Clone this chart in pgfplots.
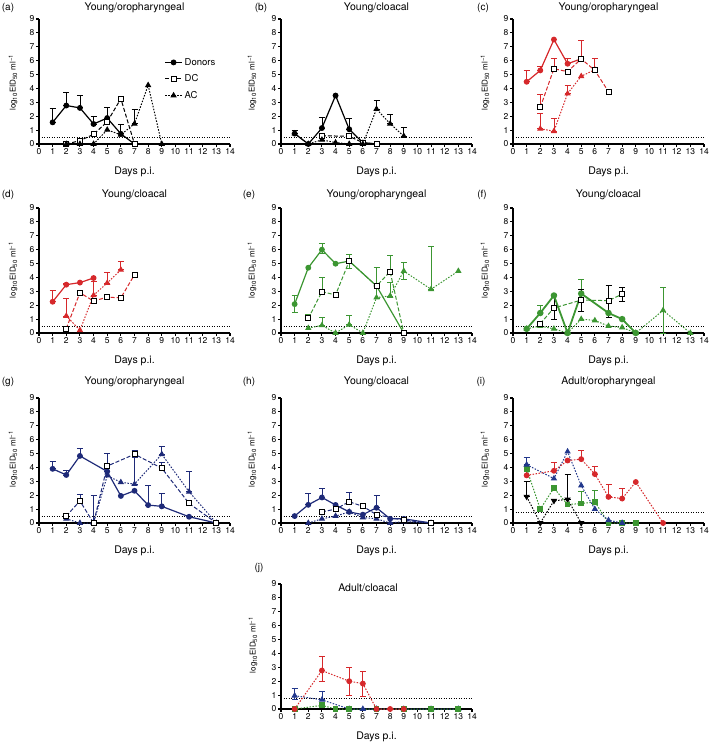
\documentclass[border=0pt]{standalone}
\usepackage{fontspec}
\setmainfont{TeX Gyre Heros}
\usepackage{pgfplots}
\pgfplotsset{compat=1.18}
\definecolor{cred}{HTML}{D6282B}
\definecolor{cgreen}{HTML}{3C9632}
\definecolor{cnavy}{HTML}{1E2A78}
\definecolor{cblue}{HTML}{22388C}
\newcommand{\tf}{\fontsize{10.5}{12}\selectfont}
\newcommand{\lf}{\fontsize{10}{12}\selectfont}
\newcommand{\yf}{\fontsize{8}{9}\selectfont}
\newcommand{\ylab}{log\textsubscript{10}EID\textsubscript{50} ml\textsuperscript{−1}}
\pgfplotsset{
 panel/.style={scale only axis, width=191pt, height=125pt,
   xmin=0,xmax=14,ymin=0,ymax=9, xtick={0,...,14}, ytick={0,...,9},
   axis lines=left, axis line style={-, line width=1.7pt},
   tick align=outside, major tick length=3pt, tick style={line width=1.1pt, black},
   tick label style={font=\fontsize{8.5}{9}\selectfont},
   /pgf/number format/assume math mode=true,
   xticklabel style={inner sep=1.5pt}, yticklabel style={inner sep=1.5pt},
   clip=false, anchor=south west},
 lod/.style={forget plot, black, line width=1pt, dash pattern=on 1.3pt off 1.2pt},
 don/.style={solid, line width=1.2pt, mark=*, mark size=2.3pt, mark options={solid}},
 dc/.style={dash pattern=on 4pt off 2pt, line width=1pt, mark=square*, mark size=2.5pt, mark options={solid, draw=black, fill=white, line width=0.9pt}},
 ac/.style={dash pattern=on 1.5pt off 1.5pt, line width=1pt, mark=triangle*, mark size=2.7pt, mark options={solid}},
 adl/.style={dash pattern=on 1.5pt off 1.5pt, line width=1pt},
 eb/.style={forget plot, only marks, mark=*, mark size=0.3pt, mark options={solid}, error bars/.cd, y dir=both, y explicit, error mark=-,
   error bar style={line width=0.8pt, solid}, error mark options={rotate=90, line width=0.8pt, mark size=3pt, solid}},
}
\newcommand{\EB}[2]{\addplot[#1,eb] table[row sep=\\,x=x,y=y,y error plus=ep,y error minus=em]{x y ep em\\ #2};}
\newcommand{\PL}[2]{\addplot[#1] table[row sep=\\,x=x,y=y]{x y\\ #2};}
\begin{document}
\begin{tikzpicture}
\useasboundingbox (0,0) rectangle (710pt,-742pt);
% ---------- (a)
\begin{axis}[panel, at={(39pt,-144pt)}, legend entries={Donors,DC,AC},
  legend style={at={(0.64,0.72)}, anchor=north west, draw=none, fill=none, font=\fontsize{9.5}{11}\selectfont, row sep=4pt}, legend cell align=left]
\addplot[lod] coordinates {(0,0.5)(14,0.5)};
\EB{black}{1 1.56 0.97 0\\ 2 2.77 0.93 0\\ 3 2.6 0.9 0\\ 4 1.44 0.56 0\\ 5 1.87 0.8 0\\ 6 0.73 0.71 0\\ 7 1.46 1.0 0\\}
\PL{don,black}{1 1.56\\ 2 2.77\\ 3 2.6\\ 4 1.44\\ 5 1.87\\ 6 0.73\\ 7 0\\}
\PL{dc,black}{2 0\\ 3 0.24\\ 4 0.7\\ 5 1.6\\ 6 3.26\\ 7 0\\}
\PL{ac,black}{2 0\\ 3 0\\ 4 0\\ 5 1.02\\ 6 0.66\\ 7 1.46\\ 8 4.23\\ 9 0\\}
\end{axis}
% ---------- (b)
\begin{axis}[panel, at={(281pt,-144pt)}]
\addplot[lod] coordinates {(0,0.5)(14,0.5)};
\EB{black}{1 0.75 0.25 0\\ 3 1.15 0.8 0\\ 5 1.06 0.76 0\\ 7 2.52 0.64 0\\ 8 1.46 0.64 0\\ 9 0.57 0.66 0\\}
\PL{don,black}{1 0.75\\ 2 0\\ 3 1.15\\ 4 3.49\\ 5 1.06\\ 6 0.1\\ 7 0\\}
\PL{dc,black}{3 0.6\\ 5 0.55\\ 6 0.1\\ 7 0\\}
\PL{ac,black}{1 0.75\\ 2 0\\ 3 0.3\\ 4 0.1\\ 5 0\\ 6 0\\ 7 2.52\\ 8 1.46\\ 9 0.57\\}
\end{axis}
% ---------- (c)
\begin{axis}[panel, at={(513pt,-144pt)}]
\addplot[lod] coordinates {(0,0.5)(14,0.5)};
\EB{cred}{1 4.48 0.8 0\\ 2 5.3 0.3 0\\ 4 5.78 0.4 0\\ 2 2.64 0.9 0\\ 3 5.42 0.76 0\\ 5 6.13 1.35 0\\ 6 5.3 0.88 0\\ 2 1.1 1.1 0\\ 3 0.92 0.9 0\\ 4 3.63 0.6 0\\}
\PL{don,cred}{1 4.48\\ 2 5.3\\ 3 7.52\\ 4 5.78\\ 5 6.13\\}
\PL{ac,cred}{2 1.1\\ 3 0.92\\ 4 3.63\\ 5 4.88\\ 6 5.35\\}
\PL{dc,cred}{2 2.64\\ 3 5.42\\ 4 5.21\\ 5 6.13\\ 6 5.3\\ 7 3.77\\}
\end{axis}
% ---------- (d)
\begin{axis}[panel, at={(39pt,-333pt)}]
\addplot[lod] coordinates {(0,0.5)(14,0.5)};
\EB{cred}{1 2.25 0.8 0\\ 2 3.48 0.12 0\\ 3 2.9 0.2 0\\ 2 1.23 1.27 0\\ 4 2.72 1.0 0\\ 5 3.6 0.76 0\\ 6 4.55 0.6 0\\}
\PL{don,cred}{1 2.25\\ 2 3.48\\ 3 3.63\\ 4 3.96\\}
\PL{ac,cred}{2 1.23\\ 3 0.2\\ 4 2.72\\ 5 3.6\\ 6 4.55\\}
\PL{dc,cred}{2 0.32\\ 3 2.9\\ 4 2.3\\ 5 2.58\\ 6 2.53\\ 7 4.2\\}
\end{axis}
% ---------- (e)
\begin{axis}[panel, at={(281pt,-333pt)}]
\addplot[lod] coordinates {(0,0.5)(14,0.5)};
\EB{cgreen}{1 2.08 0.6 0.6\\ 3 6.0 0.42 0.3\\ 5 5.18 0.5 0.5\\ 7 3.39 1.3 0.9\\ 2 1.05 0.3 0\\ 3 2.98 1.0 0\\ 8 4.42 1.16 0\\ 3 0.55 0.6 0\\ 5 0.6 0.7 0\\ 8 2.67 1.0 0\\ 9 4.46 0.6 0.6\\ 11 3.15 3.1 0\\}
\PL{don,cgreen}{1 2.08\\ 2 4.7\\ 3 6.0\\ 4 4.99\\ 5 5.18\\ 7 3.39\\ 9 0\\}
\PL{ac,cgreen}{2 0.35\\ 3 0.55\\ 4 0\\ 5 0.6\\ 6 0\\ 7 2.55\\ 8 2.67\\ 9 4.46\\ 11 3.15\\ 13 4.46\\}
\PL{dc,cgreen}{2 1.05\\ 3 2.98\\ 4 2.74\\ 5 5.18\\ 7 3.39\\ 8 4.42\\ 9 0\\}
\end{axis}
% ---------- (f)
\begin{axis}[panel, at={(513pt,-333pt)}]
\addplot[lod] coordinates {(0,0.5)(14,0.5)};
\EB{cgreen}{2 1.44 0.56 0\\ 5 2.84 1.0 0\\ 11 1.63 1.67 1.63\\}
\EB{black}{3 1.8 1.0 0.8\\ 5 2.37 0.75 0.8\\ 7 2.33 1.1 1.2\\ 8 2.8 0.5 0.5\\}
\PL{ac,cgreen}{1 0.3\\ 2 0.5\\ 3 0.3\\ 4 0\\ 5 1.0\\ 6 0.9\\ 7 0.5\\ 8 0.4\\ 9 0\\ 11 1.63\\ 13 0\\}
\PL{don,cgreen,line width=1.8pt}{1 0.3\\ 2 1.44\\ 3 2.7\\ 4 0\\ 5 2.84\\ 7 1.44\\ 8 1.0\\ 9 0\\}
\PL{dc,cgreen}{2 0.68\\ 3 1.8\\ 5 2.37\\ 7 2.33\\ 8 2.8\\}
\end{axis}
% ---------- (g)
\begin{axis}[panel, at={(39pt,-523pt)}]
\addplot[lod] coordinates {(0,0.5)(14,0.5)};
\EB{cnavy}{1 3.9 0.54 0\\ 2 3.46 0.32 0\\ 3 4.83 0.54 0\\ 5 3.71 1.29 0\\ 8 1.29 1.39 0\\ 9 1.2 0.9 0\\ 3 1.59 0.48 0\\ 7 4.95 0.3 0\\ 9 3.95 0.44 0\\ 4 0 2.0 0\\ 7 2.8 1.95 0\\ 9 4.95 0.6 0\\ 11 2.25 1.45 0\\}
\PL{don,cnavy}{1 3.9\\ 2 3.46\\ 3 4.83\\ 5 3.71\\ 6 1.95\\ 7 2.32\\ 8 1.29\\ 9 1.2\\ 11 0.45\\ 13 0\\}
\PL{ac,cnavy}{2 0.3\\ 3 0\\ 4 0\\ 5 3.41\\ 6 2.93\\ 7 2.8\\ 9 4.95\\ 11 2.25\\ 13 0\\}
\PL{dc,cnavy}{2 0.5\\ 3 1.59\\ 4 0\\ 5 4.1\\ 7 4.95\\ 9 3.95\\ 11 1.41\\ 13 0\\}
\end{axis}
% ---------- (h)
\begin{axis}[panel, at={(281pt,-523pt)}]
\addplot[lod] coordinates {(0,0.5)(14,0.5)};
\EB{cnavy}{2 1.31 0.81 0\\ 3 1.84 0.66 0\\ 5 1.53 0.64 0\\ 7 1.1 0.9 0\\}
\PL{don,cnavy}{1 0.5\\ 2 1.31\\ 3 1.84\\ 4 1.3\\ 5 0.8\\ 6 0.6\\ 7 1.1\\ 8 0.3\\ 9 0.3\\ 11 0\\}
\PL{ac,cnavy}{2 0\\ 3 0.3\\ 4 0.5\\ 5 0.8\\ 6 0.4\\ 7 0.3\\ 8 0\\ 9 0.1\\ 11 0\\}
\PL{dc,cnavy}{3 0.8\\ 4 1.0\\ 5 1.53\\ 6 1.2\\ 7 0.6\\ 9 0.2\\ 11 0\\}
\end{axis}
% ---------- (i)
\begin{axis}[panel, at={(513pt,-523pt)}]
\addplot[lod] coordinates {(0,0.75)(14,0.75)};
\EB{cred}{1 3.43 0.64 0\\ 3 3.76 0.62 0\\ 5 4.6 0.6 0\\ 6 3.52 0.55 0\\ 7 1.88 0.88 0\\ 8 1.76 0.72 0\\}
\EB{cblue}{1 4.2 0.5 0\\}
\EB{cgreen}{5 1.4 0.9 0\\ 6 1.52 0.84 0\\}
\EB{black}{1 1.9 1.1 0\\ 4 1.7 1.8 0\\}
\PL{adl,black,mark=triangle*,mark size=2.7pt,mark options={solid,rotate=180}}{1 1.9\\ 2 0\\ 3 1.6\\ 4 1.7\\ 5 0\\}
\PL{adl,cgreen,mark=square*,mark size=2.4pt,mark options={solid}}{1 3.9\\ 2 1.0\\ 3 2.52\\ 4 1.33\\ 5 1.4\\ 6 1.52\\ 7 0\\ 8 0\\ 9 0\\}
\PL{adl,cblue,mark=triangle*,mark size=2.7pt,mark options={solid}}{1 4.2\\ 3 3.2\\ 4 5.14\\ 5 2.7\\ 6 1.0\\ 7 0.2\\ 8 0\\}
\PL{adl,cred,mark=*,mark size=2.4pt,mark options={solid}}{1 3.43\\ 3 3.76\\ 4 4.5\\ 5 4.6\\ 6 3.52\\ 7 1.88\\ 8 1.76\\ 9 2.95\\ 11 0\\}
\end{axis}
% ---------- (j)
\begin{axis}[panel, at={(281pt,-709pt)}]
\addplot[lod] coordinates {(0,0.73)(14,0.73)};
\EB{cred}{3 2.77 1.0 0.77\\ 5 2.0 1.0 1.04\\ 6 1.83 0.87 0.93\\}
\EB{cblue}{1 0.96 0.52 0.3\\ 3 0.66 0.58 0\\}
\PL{adl,cblue,mark=triangle*,mark size=2.7pt,mark options={solid}}{1 0.96\\ 3 0.66\\ 5 0\\ 6 0\\ 7 0\\ 9 0\\ 11 0\\ 13 0\\}
\PL{adl,cgreen,mark=square*,mark size=2.4pt,mark options={solid}}{1 0\\ 3 0.26\\ 4 0\\ 5 0\\ 7 0\\ 9 0\\ 11 0\\ 13 0\\}
\PL{adl,cred,mark=*,mark size=2.4pt,mark options={solid}}{1 0\\ 3 2.77\\ 5 2.0\\ 6 1.83\\ 7 0\\ 8 0\\ 9 0\\}
\end{axis}
% ---------- text
\foreach \lx/\ly/\t in {8/7.5/(a), 261/7.5/(b), 483/7.5/(c), 8/195/(d), 249/195/(e), 482/195/(f), 8/382/(g), 249/382/(h), 481/382/(i), 259/568/(j)}
  \node[font=\lf] at (\lx pt,-\ly pt) {\t};
\foreach \lx/\ly/\t in {134.5/7.5/Young\slash oropharyngeal, 376.5/7.5/Young\slash cloacal, 608.5/7.5/Young\slash oropharyngeal,
  134.5/195/Young\slash cloacal, 376.5/195/Young\slash oropharyngeal, 608.5/195/Young\slash cloacal,
  134.5/382/Young\slash oropharyngeal, 376.5/382/Young\slash cloacal, 608.5/382/Adult\slash oropharyngeal, 368/588/Adult\slash cloacal}
  \node[font=\tf] at (\lx pt,-\ly pt) {\t};
\foreach \lx/\ly in {134.5/172, 376.5/172, 608.5/172, 134.5/361, 376.5/361, 608.5/361, 134.5/551, 376.5/551, 608.5/551, 376.5/737}
  \node[font=\tf] at (\lx pt,-\ly pt) {Days p.i.};
\foreach \lx/\ly in {13/82.5, 252/82.5, 485/82.5, 13/270, 252/270, 485/270, 13/459, 252/459, 485/459, 253/645}
  \node[font=\yf, rotate=90] at (\lx pt,-\ly pt) {\ylab};
\end{tikzpicture}
\end{document}
